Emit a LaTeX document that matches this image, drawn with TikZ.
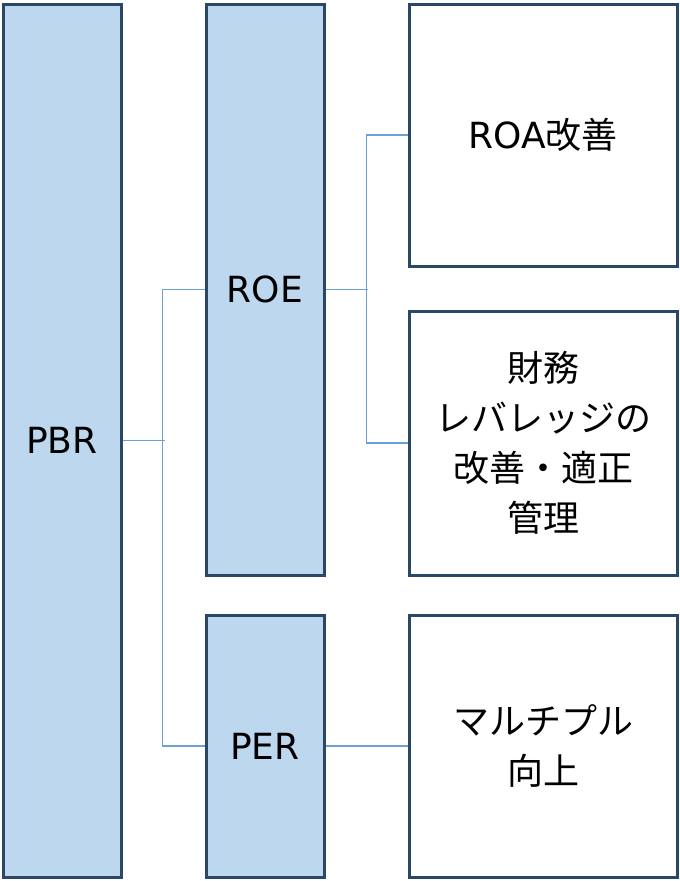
\documentclass[tikz,border=0pt]{standalone}
\usepackage{fontspec}
\setmainfont{Noto Sans CJK JP}
\newfontfamily\lat{DejaVu Sans}
\begin{document}
\begin{tikzpicture}[x=1pt,y=-1pt,
  base/.style={draw=boxline,line width=3pt,inner sep=0pt,align=center,
    font=\fontsize{36}{50}\selectfont},
  bluebox/.style={base,fill=boxfill,minimum width=118pt},
  whitebox/.style={base,fill=white,minimum width=268pt},
  conn/.style={draw=connline,line width=1.2pt}]
\definecolor{boxline}{HTML}{2B4766}
\definecolor{boxfill}{HTML}{BDD7EE}
\definecolor{connline}{HTML}{6A9FD8}
\useasboundingbox (0,0) rectangle (680,881);
\node[bluebox,minimum height=873pt] (pbr) at (62,440.5) {\lat PBR};
\node[bluebox,minimum height=571pt] (roe) at (265,289.5) {\lat ROE};
\node[bluebox,minimum height=262pt] (per) at (265,746) {\lat PER};
\node[whitebox,minimum height=262pt] (roa) at (543,135) {{\lat ROA}改善};
\node[whitebox,minimum height=264pt] (fin) at (543,443) {財務\\レバレッジの\\改善・適正\\管理};
\node[whitebox,minimum height=262pt] (mult) at (543,746) {マルチプル\\向上};
\draw[conn] (pbr.east) -- ++(42,0);
\draw[conn] (roe.west) -- ++(-42,0) |- (per.west);
\draw[conn] (roe.east) -- ++(42,0);
\draw[conn] (roa.west) -- ++(-41,0) |- (fin.west);
\draw[conn] (per.east) -- (mult.west);
\end{tikzpicture}
\end{document}
